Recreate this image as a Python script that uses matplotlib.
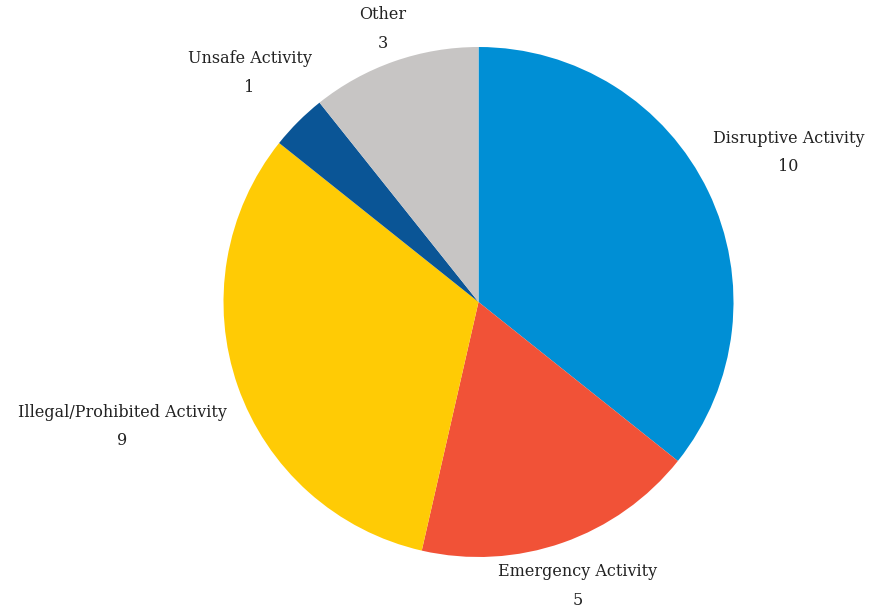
import matplotlib.pyplot as plt
import numpy as np

labels = ["Disruptive Activity", "Emergency Activity", "Illegal/Prohibited Activity",
          "Unsafe Activity", "Other"]
counts = [10, 5, 9, 1, 3]
colors = ["#008FD5", "#F15237", "#FFCB05", "#0A5596", "#C7C5C4"]

# how far out each label sits (in radii)
label_r = [1.35, 1.18, 1.48, 1.27, 1.135]

plt.rcParams['font.family'] = ['DejaVu Serif']

fig = plt.figure(figsize=(8.82, 6.12), dpi=100)
ax = fig.add_axes([0, 0, 1, 1])
ax.axis("off")

wedges, _ = ax.pie(counts, colors=colors, startangle=90, counterclock=False,
                   radius=1, center=(0, 0), wedgeprops=dict(linewidth=0))

for w, lab, n, r in zip(wedges, labels, counts, label_r):
    mid = np.deg2rad((w.theta1 + w.theta2) / 2)
    ax.text(r * np.cos(mid), r * np.sin(mid), f"{lab}\n{n}", ha="center", va="center",
            fontsize=11.5, color="#222222", linespacing=1.9)

ax.set_aspect("equal")
ax.set_xlim(-478.5 / 255, (882 - 478.5) / 255)
ax.set_ylim(-(612 - 302) / 255, 302 / 255)

plt.savefig("out.png", dpi=100)
